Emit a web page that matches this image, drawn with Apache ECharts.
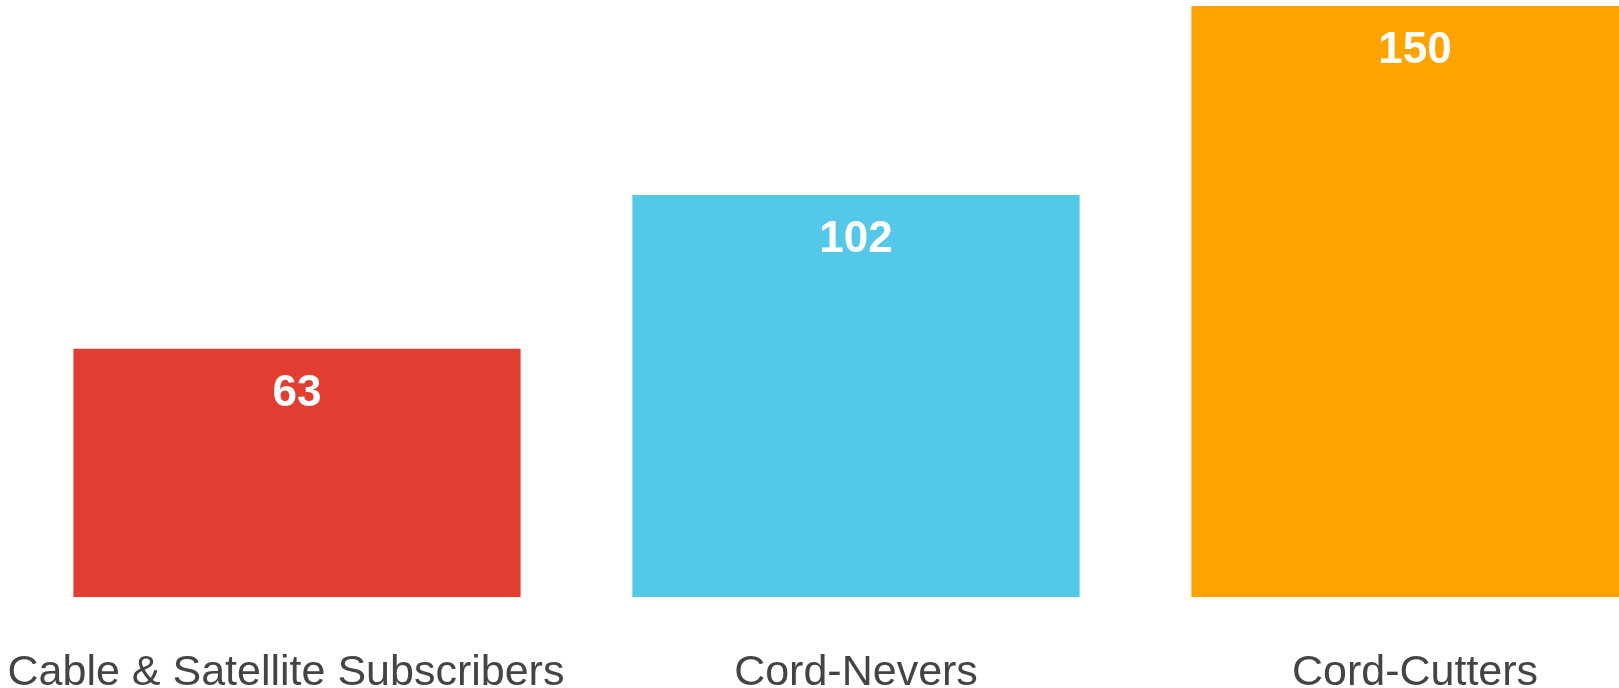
<!DOCTYPE html>
<html>
<head>
<meta charset="utf-8">
<script src="https://cdn.jsdelivr.net/npm/echarts@6/dist/echarts.min.js"></script>
<style>
html,body{margin:0;padding:0;background:#fff;overflow:hidden;}
#chart{width:1619px;height:688px;}
</style>
</head>
<body>
<div id="chart"></div>
<script>
const categories = ['Cable & Satellite Subscribers', 'Cord-Nevers', 'Cord-Cutters'];
const values = [63, 102, 150];
const barColors = ['#E23D31', '#54C8E8', '#FFA300'];

const chart = echarts.init(document.getElementById('chart'), null, {renderer: 'canvas'});
chart.setOption({
  animation: false,
  backgroundColor: '#ffffff',
  grid: {left: 17.5, width: 1677, top: 6, bottom: 91, containLabel: false, outerBoundsMode: 'none'},
  xAxis: {
    type: 'category',
    data: categories.map((c, i) => i === 0 ? {value: c, textStyle: {padding: [0, 22, 0, 0]}} : c),
    axisLine: {show: false},
    axisTick: {show: false},
    axisLabel: {
      interval: 0,
      margin: 55,
      fontSize: 43,
      color: '#444444',
      fontFamily: 'Liberation Sans, Arial, sans-serif'
    }
  },
  yAxis: {
    type: 'value',
    min: 0,
    max: 150,
    show: false,
    splitLine: {show: false}
  },
  series: [{
    type: 'bar',
    barCategoryGap: '20%',
    data: values.map((v, i) => ({value: v, itemStyle: {color: barColors[i]}})),
    label: {
      show: true,
      position: 'insideTop',
      distance: 23,
      color: '#ffffff',
      fontWeight: 'bold',
      fontSize: 44,
      fontFamily: 'Liberation Sans, Arial, sans-serif'
    }
  }]
});
</script>
</body>
</html>
